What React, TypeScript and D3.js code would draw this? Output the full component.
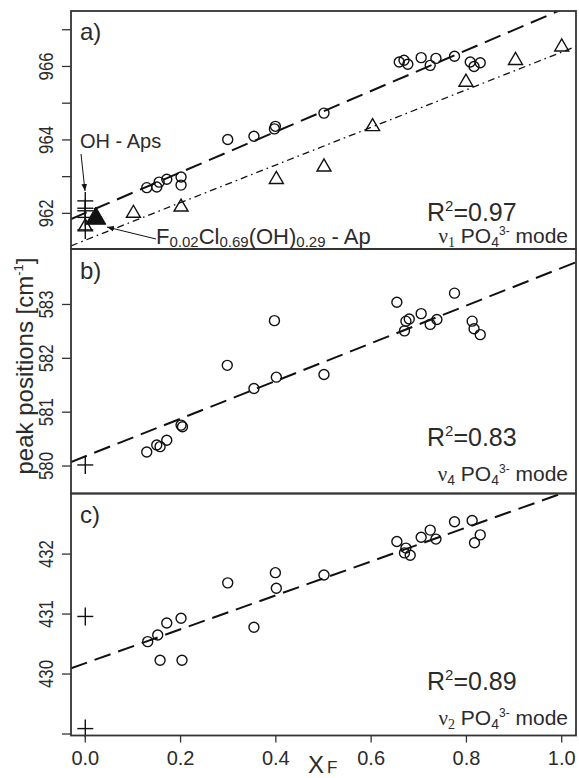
import React from "react";
import * as d3 from "d3";

// ---- data ----
const xTicks = [0, 0.2, 0.4, 0.6, 0.8, 1.0];

// panel a (nu1)
const xA = [0.129, 0.15, 0.155, 0.171, 0.201, 0.201, 0.299, 0.354, 0.399, 0.397, 0.501, 0.659, 0.669, 0.677, 0.705, 0.724, 0.736, 0.775, 0.808, 0.816, 0.829];
const yA = [962.7, 962.72, 962.85, 962.93, 962.99, 962.77, 964.01, 964.1, 964.37, 964.3, 964.73, 966.12, 966.17, 966.06, 966.24, 966.03, 966.22, 966.28, 966.12, 966.0, 966.1];
const triXA = [0.0, 0.101, 0.201, 0.401, 0.501, 0.603, 0.799, 0.903, 1.0];
const triYA = [961.66, 962.03, 962.2, 962.95, 963.29, 964.39, 965.6, 966.19, 966.56];
const filledTriX = [0.02];
const filledTriY = [961.9];
const crossYA = [962.34, 962.14, 962.07, 961.89, 961.55];
const fitA = [962.01, 5.54];
const fitA2 = [961.27, 5.12];
const ticksA = [962, 963, 964, 965, 966, 967];
const labelsA = [962, 964, 966];

// panel b (nu4)
const xB = [0.129, 0.15, 0.157, 0.171, 0.201, 0.204, 0.298, 0.354, 0.397, 0.401, 0.501, 0.654, 0.673, 0.67, 0.68, 0.705, 0.724, 0.738, 0.775, 0.812, 0.816, 0.829];
const yB = [580.26, 580.39, 580.36, 580.48, 580.76, 580.73, 581.87, 581.44, 582.7, 581.65, 581.7, 583.04, 582.69, 582.51, 582.73, 582.83, 582.63, 582.72, 583.21, 582.69, 582.55, 582.44];
const crossYB = [580.02];
const fitB = [580.18, 3.5];
const ticksB = [580, 581, 582, 583];
const labelsB = [580, 581, 582, 583];

// panel c (nu2)
const xC = [0.131, 0.152, 0.157, 0.171, 0.201, 0.203, 0.299, 0.354, 0.399, 0.401, 0.501, 0.654, 0.673, 0.67, 0.682, 0.705, 0.724, 0.736, 0.775, 0.812, 0.817, 0.829];
const yC = [430.54, 430.65, 430.23, 430.85, 430.93, 430.23, 431.52, 430.78, 431.69, 431.43, 431.65, 432.21, 432.1, 432.02, 431.98, 432.28, 432.4, 432.25, 432.54, 432.56, 432.19, 432.32];
const crossYC = [430.96, 429.09];
const fitC = [430.18, 2.83];
const ticksC = [429, 430, 431, 432];
const labelsC = [430, 431, 432];

const r2Labels = ["0.97", "0.83", "0.89"];
const modeSubs = ["1", "4", "2"];
const panelNames = ["a)", "b)", "c)"];

// ---- layout ----
const W = 579, H = 778;
const L = 71, R = 576;
const tops = [11, 249, 493.5];
const bots = [249, 493.5, 735.5];
const domains: [number, number][] = [[961.03, 967.51], [579.49, 584.03], [428.975, 433.01]];

const SANS = "'Liberation Sans', Arial, sans-serif";
const SERIF = "'Liberation Serif', 'Times New Roman', serif";
const TXT = "#2b2b2b";

const x = d3.scaleLinear().domain([-0.03, 1.03]).range([L, R]);

function Circles({ xs, ys, y }: { xs: number[]; ys: number[]; y: d3.ScaleLinear<number, number> }) {
  return (
    <g>
      {xs.map((v, i) => (
        <circle key={i} cx={x(v)} cy={y(ys[i])} r={5} fill="none" stroke="#111" strokeWidth={1.4} />
      ))}
    </g>
  );
}

function Crosses({ ys, y }: { ys: number[]; y: d3.ScaleLinear<number, number> }) {
  return (
    <g stroke="#111" strokeWidth={1.4}>
      {ys.map((v, i) => {
        const cx = x(0), cy = y(v);
        return (
          <g key={i}>
            <line x1={cx - 8} x2={cx + 8} y1={cy} y2={cy} />
            <line x1={cx} x2={cx} y1={cy - 9} y2={cy + 9} />
          </g>
        );
      })}
    </g>
  );
}

function tri(cx: number, cy: number, s: number) {
  return `M${cx - s},${cy + s * 0.72}L${cx + s},${cy + s * 0.72}L${cx},${cy - s * 1.0}Z`;
}

export default function App() {
  const ys = domains.map((d, i) => d3.scaleLinear().domain(d).range([bots[i], tops[i]]));
  const fits = [fitB, fitC];
  const fitLine = (f: number[], y: d3.ScaleLinear<number, number>) =>
    d3.line<number>().x((v) => x(v)).y((v) => y(f[0] + f[1] * v))([-0.03, 1.03]) || "";

  const tickSets = [ticksA, ticksB, ticksC];
  const labelSets = [labelsA, labelsB, labelsC];
  const r2Base = [221, 446, 690];
  const modeBase = [243, 481, 725];
  const nameBase = [40, 279, 523];

  return (
    <svg width={W} height={H} style={{ position: "absolute", left: 0, top: 0, background: "#fff" }}>
      <defs>
        {ys.map((_, i) => (
          <clipPath id={`clip${i}`} key={i}>
            <rect x={L} y={tops[i]} width={R - L} height={bots[i] - tops[i]} />
          </clipPath>
        ))}
        <marker id="arr" viewBox="0 0 10 10" refX="10" refY="5" markerWidth="7" markerHeight="7" orient="auto" markerUnits="userSpaceOnUse">
          <path d="M0,1L10,5L0,9Z" fill="#111" />
        </marker>
      </defs>

      {/* fit lines */}
      <g clipPath="url(#clip0)">
        <path d={fitLine(fitA, ys[0])} fill="none" stroke="#111" strokeWidth={2} strokeDasharray="17,8" />
        <path d={fitLine(fitA2, ys[0])} fill="none" stroke="#111" strokeWidth={1.3} strokeDasharray="7,4,1.6,4" />
      </g>
      {fits.map((f, k) => (
        <g clipPath={`url(#clip${k + 1})`} key={k}>
          <path d={fitLine(f, ys[k + 1])} fill="none" stroke="#111" strokeWidth={2} strokeDasharray="17,8" />
        </g>
      ))}

      {/* panel a markers */}
      <Circles xs={xA} ys={yA} y={ys[0]} />
      <g fill="none" stroke="#111" strokeWidth={1.4}>
        {triXA.map((v, i) => (
          <path key={i} d={tri(x(v), ys[0](triYA[i]), 7)} />
        ))}
      </g>
      <Crosses ys={crossYA} y={ys[0]} />
      {filledTriX.map((v, i) => (
        <path key={i} d={tri(x(v) + 1, ys[0](filledTriY[i]), 10)} fill="#111" stroke="#111" strokeWidth={1} />
      ))}

      {/* panel b markers */}
      <Circles xs={xB} ys={yB} y={ys[1]} />
      <Crosses ys={crossYB} y={ys[1]} />

      {/* panel c markers */}
      <Circles xs={xC} ys={yC} y={ys[2]} />
      <Crosses ys={crossYC} y={ys[2]} />

      {/* frames */}
      {ys.map((_, i) => (
        <rect key={i} x={L} y={tops[i]} width={R - L} height={bots[i] - tops[i]} fill="none" stroke="#333" strokeWidth={1.8} />
      ))}

      {/* y ticks */}
      {ys.map((y, i) => (
        <g key={i}>
          {tickSets[i].map((t) => (
            <line key={t} x1={62} x2={L} y1={y(t)} y2={y(t)} stroke="#333" strokeWidth={1.3} />
          ))}
          {labelSets[i].map((t) => (
            <text
              key={t}
              transform={`translate(53,${y(t)}) rotate(-90) scale(0.8,1)`}
              textAnchor="middle"
              fontFamily={SANS}
              fontSize={21}
              fill={TXT}
            >
              {t}
            </text>
          ))}
        </g>
      ))}

      {/* x ticks */}
      {xTicks.map((t) => (
        <g key={t}>
          <line x1={x(t)} x2={x(t)} y1={bots[2]} y2={bots[2] + 7} stroke="#333" strokeWidth={1.3} />
          <text x={x(t)} y={765} textAnchor="middle" fontFamily={SANS} fontSize={20} fill={TXT}>
            {t.toFixed(1)}
          </text>
        </g>
      ))}

      {/* axis titles */}
      <text x={308} y={773} fontFamily={SANS} fontSize={24} fill={TXT}>
        X<tspan fontSize={17} dx={3} dy={0}>F</tspan>
      </text>
      <text transform="translate(33,366) rotate(-90)" textAnchor="middle" fontFamily={SANS} fontSize={24} fill={TXT}>
        peak positions [cm<tspan fontSize={13} dy={-10}>-1</tspan>
        <tspan dy={10}>]</tspan>
      </text>

      {/* panel names, R2 and mode labels */}
      {panelNames.map((n, i) => (
        <g key={n}>
          <text x={80} y={nameBase[i]} fontFamily={SANS} fontSize={24} fill={TXT}>
            {n}
          </text>
          <text x={427} y={r2Base[i]} fontFamily={SANS} fontSize={25} fill={TXT}>
            R<tspan fontSize={15} dy={-10}>2</tspan>
            <tspan dy={10}>={r2Labels[i]}</tspan>
          </text>
          <text x={568} y={modeBase[i]} textAnchor="end" fontFamily={SANS} fontSize={21} fill={TXT}>
            <tspan fontFamily={SERIF}>ν</tspan>
            <tspan fontFamily={i === 1 ? SANS : SERIF} fontSize={14} dy={4}>
              {modeSubs[i]}
            </tspan>
            <tspan dy={-4}> PO</tspan>
            <tspan fontSize={14} dy={4}>4</tspan>
            <tspan fontSize={12} dy={-12}>3-</tspan>
            <tspan dy={8}> mode</tspan>
          </text>
        </g>
      ))}

      {/* annotations panel a */}
      <text x={80} y={148} fontFamily={SANS} fontSize={20} fill={TXT}>
        OH - Aps
      </text>
      <line x1={81} y1={154} x2={85} y2={191} stroke="#111" strokeWidth={1} markerEnd="url(#arr)" />
      <line x1={156} y1={239} x2={107} y2={227} stroke="#111" strokeWidth={1} markerEnd="url(#arr)" />
      <text x={156} y={244} fontFamily={SANS} fontSize={22} fill={TXT}>
        F<tspan fontSize={15} dy={3}>0.02</tspan>
        <tspan dy={-3}>Cl</tspan>
        <tspan fontSize={15} dy={3}>0.69</tspan>
        <tspan dy={-3}>(OH)</tspan>
        <tspan fontSize={15} dy={3}>0.29</tspan>
        <tspan dy={-3}> - Ap</tspan>
      </text>
    </svg>
  );
}
